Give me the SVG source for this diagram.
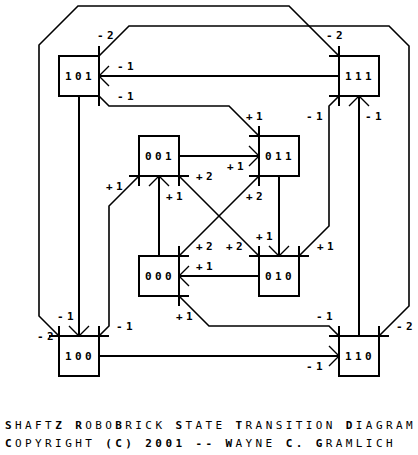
<svg xmlns="http://www.w3.org/2000/svg" width="418" height="455" viewBox="0 0 418 455">
<style>
.box{fill:#fff;stroke:#000;stroke-width:2}
.bar{stroke:#000;stroke-width:2;fill:none}
.c{stroke:#000;stroke-width:2;fill:none}
.d{stroke:#000;stroke-width:1.6;fill:none}
text{font-family:"DejaVu Sans Mono","Liberation Mono",monospace;font-size:11px;font-weight:bold;letter-spacing:3.4px;fill:#000}
.n{font-weight:normal}
</style>
<defs>
<marker id="arr" markerUnits="userSpaceOnUse" markerWidth="12" markerHeight="24" viewBox="-11 -12 12 24" refX="0" refY="0" orient="auto">
<path d="M-10,-10 L0,0 L-10,10" fill="none" stroke="#000" stroke-width="1.4"/>
</marker>
</defs>
<rect width="418" height="455" fill="#fff"/>
<g id="connectors">
<polyline class="d" points="339,56 289,6 78,6 39,45 39,316 59,336"/>
<polyline class="d" points="99,56 129,26 389,26 409,46 409,306 379,336"/>
<line class="c" x1="339" y1="76" x2="99" y2="76" marker-end="url(#arr)"/>
<polyline class="d" points="99,96 109,106 229,106 259,136"/>
<line class="c" x1="79" y1="96" x2="79" y2="336" marker-end="url(#arr)"/>
<polyline class="d" points="139,176 109,206 109,326 99,336"/>
<line class="c" x1="159" y1="256" x2="159" y2="176" marker-end="url(#arr)"/>
<line class="d" x1="179" y1="176" x2="259" y2="256"/>
<line class="d" x1="259" y1="176" x2="179" y2="256"/>
<line class="c" x1="179" y1="156" x2="259" y2="156" marker-end="url(#arr)"/>
<line class="c" x1="279" y1="176" x2="279" y2="256" marker-end="url(#arr)"/>
<line class="c" x1="259" y1="276" x2="179" y2="276" marker-end="url(#arr)"/>
<polyline class="d" points="179,296 209,326 329,326 339,336"/>
<line class="c" x1="99" y1="356" x2="339" y2="356" marker-end="url(#arr)"/>
<line class="c" x1="359" y1="336" x2="359" y2="96" marker-end="url(#arr)"/>
<polyline class="d" points="299,256 329,226 329,106 339,96"/>
<g id="labels">
<text x="97" y="39">-2</text>
<text x="117" y="70">-1</text>
<text x="117" y="100">-1</text>
<text x="326" y="39">-2</text>
<text x="306" y="120">-1</text>
<text x="365" y="120">-1</text>
<text x="246" y="120">+1</text>
<text x="106" y="190">+1</text>
<text x="166" y="200">+1</text>
<text x="196" y="180">+2</text>
<text x="227" y="170">+1</text>
<text x="246" y="200">+2</text>
<text x="256" y="240">+1</text>
<text x="226" y="250">+2</text>
<text x="196" y="250">+2</text>
<text x="196" y="270">+1</text>
<text x="317" y="250">+1</text>
<text x="176" y="320">+1</text>
<text x="57" y="320">-1</text>
<text x="116" y="330">-1</text>
<text x="37" y="340">-2</text>
<text x="316" y="320">-1</text>
<text x="396" y="330">-2</text>
<text x="306" y="370">-1</text>
</g>
</g>
<g id="n101">
<rect class="box" x="59" y="56" width="40" height="40"/>
<line class="bar" x1="99" y1="46" x2="99" y2="106"/>
<text x="65" y="80">101</text>
</g>
<g id="n111">
<rect class="box" x="339" y="56" width="40" height="40"/>
<path class="bar" d="M339,46V106M329,56H339M329,96H339"/>
<text x="345" y="80">111</text>
</g>
<g id="n001">
<rect class="box" x="139" y="136" width="40" height="40"/>
<path class="bar" d="M129,176H189M139,176V186M179,176V186"/>
<text x="145" y="160">001</text>
</g>
<g id="n011">
<rect class="box" x="259" y="136" width="40" height="40"/>
<path class="bar" d="M259,126V186M249,136H259M249,176H259"/>
<text x="265" y="160">011</text>
</g>
<g id="n000">
<rect class="box" x="139" y="256" width="40" height="40"/>
<path class="bar" d="M179,246V306M179,256H189M179,296H189"/>
<text x="145" y="280">000</text>
</g>
<g id="n010">
<rect class="box" x="259" y="256" width="40" height="40"/>
<path class="bar" d="M249,256H309M259,246V256M299,246V256"/>
<text x="265" y="280">010</text>
</g>
<g id="n100">
<rect class="box" x="59" y="336" width="40" height="40"/>
<path class="bar" d="M49,336H109M59,326V336M99,326V336"/>
<text x="65" y="360">100</text>
</g>
<g id="n110">
<rect class="box" x="339" y="336" width="40" height="40"/>
<path class="bar" d="M329,336H389M339,326V336M379,326V336"/>
<text x="345" y="360">110</text>
</g>
<g id="title">
<text x="5" y="429">S<tspan class="n">HAFT</tspan>Z R<tspan class="n">OBO</tspan>B<tspan class="n">RICK</tspan> S<tspan class="n">TATE</tspan> T<tspan class="n">RANSITION</tspan> D<tspan class="n">IAGRAM</tspan></text>
<text x="5" y="447">C<tspan class="n">OPYRIGHT</tspan> (C) 2001 -- W<tspan class="n">AYNE</tspan> C. G<tspan class="n">RAMLICH</tspan></text>
</g>
</svg>
